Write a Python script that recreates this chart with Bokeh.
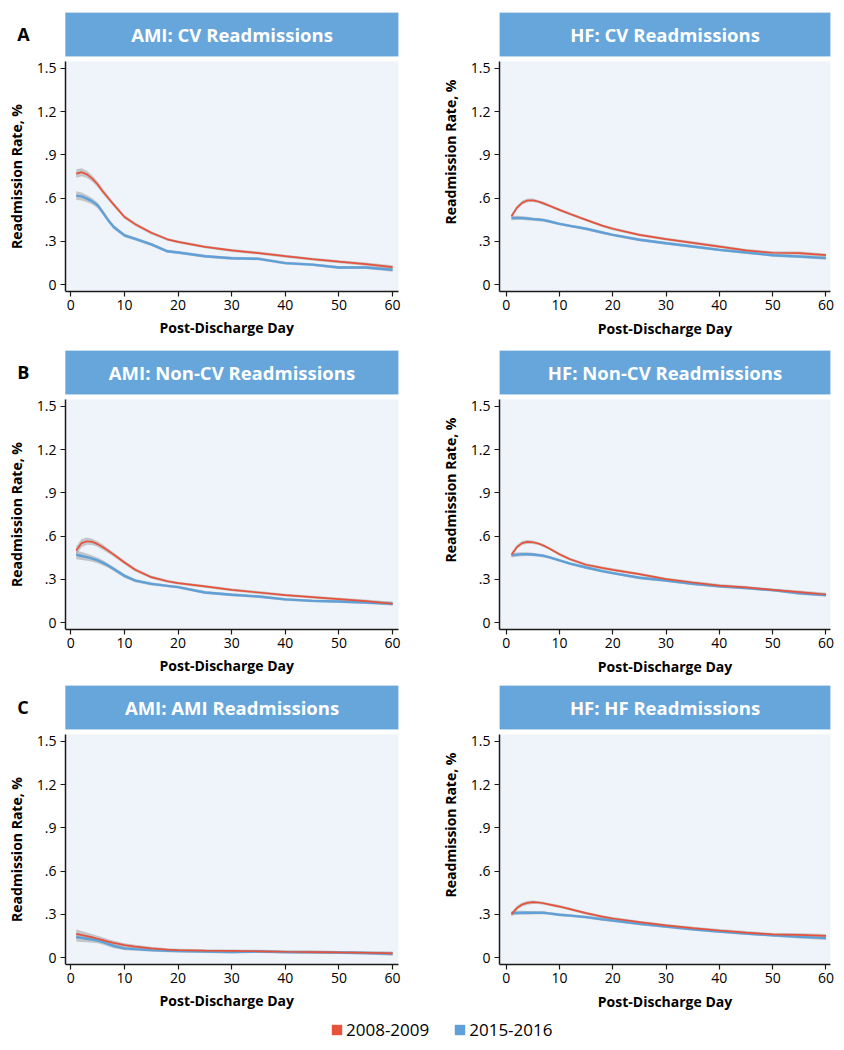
from bokeh.plotting import figure
from bokeh.models import (Range1d, BoxAnnotation, Label, FixedTicker, Legend, LegendItem,
                          CustomJSTickFormatter, Title)
from bokeh.layouts import column, row
from bokeh.embed import file_html
from bokeh.resources import INLINE

# ---------------- data ----------------
days = [1, 2, 3, 4, 5, 6, 7, 8, 10, 12, 15, 18, 20, 25, 30, 35, 40, 45, 50, 55, 60]

ami_cv_0809 = [.770, .780, .765, .735, .695, .645, .600, .555, .470, .420, .360, .315, .297, .263, .238, .220, .198, .178, .160, .143, .122]
ami_cv_1516 = [.618, .612, .597, .578, .550, .500, .445, .400, .342, .318, .280, .232, .224, .198, .184, .180, .150, .140, .120, .120, .104]

hf_cv_0809 = [.475, .533, .568, .584, .585, .577, .564, .549, .519, .490, .450, .410, .388, .346, .316, .291, .265, .238, .222, .219, .205]
hf_cv_1516 = [.462, .463, .462, .459, .455, .452, .448, .440, .422, .408, .388, .362, .346, .312, .288, .265, .242, .224, .205, .196, .185]

ami_ncv_0809 = [.500, .552, .565, .561, .545, .523, .498, .472, .418, .367, .316, .288, .275, .252, .228, .210, .192, .178, .164, .150, .132]
ami_ncv_1516 = [.471, .463, .455, .445, .432, .415, .395, .372, .325, .292, .270, .256, .247, .210, .194, .182, .162, .152, .148, .141, .132]

hf_ncv_0809 = [.471, .524, .552, .561, .558, .549, .535, .517, .475, .440, .402, .380, .367, .337, .302, .279, .258, .245, .228, .212, .196]
hf_ncv_1516 = [.468, .472, .475, .475, .473, .469, .464, .455, .432, .410, .383, .358, .344, .312, .293, .270, .252, .240, .226, .205, .192]

ami_ami_0809 = [.166, .158, .150, .141, .132, .122, .112, .103, .088, .078, .065, .057, .053, .050, .048, .045, .042, .040, .037, .035, .030]
ami_ami_1516 = [.143, .138, .132, .126, .120, .108, .095, .082, .065, .060, .053, .049, .046, .043, .039, .044, .039, .038, .037, .033, .028]

hf_hf_0809 = [.302, .344, .369, .380, .385, .383, .378, .370, .355, .337, .309, .285, .272, .247, .224, .205, .189, .175, .162, .159, .152]
hf_hf_1516 = [.309, .311, .312, .312, .312, .312, .312, .308, .298, .292, .282, .267, .258, .235, .217, .198, .182, .168, .155, .145, .136]

# 95% CI half-widths (grey bands)
ci_ami = [.030, .028, .025, .022, .020, .018, .016, .015, .013, .012, .011, .010, .010, .010, .010, .010, .010, .010, .010, .011, .013]
ci_hf = [.016, .015, .014, .013, .012, .011, .011, .010, .010, .010, .010, .010, .010, .010, .010, .010, .010, .010, .010, .011, .012]

titles = ["AMI: CV Readmissions", "HF: CV Readmissions",
          "AMI: Non-CV Readmissions", "HF: Non-CV Readmissions",
          "AMI: AMI Readmissions", "HF: HF Readmissions"]
letters = ["A", "B", "C"]
y_ticks = [0, 0.3, 0.6, 0.9, 1.2, 1.5]
x_ticks = [0, 10, 20, 30, 40, 50, 60]
legend_labels = ["2008-2009", "2015-2016"]
x_label = "Post-Discharge Day"
y_label = "Readmission Rate, %"

# ---------------- style ----------------
RED = "#E8513A"
BLUE = "#5FA0D9"
HEADER = "#66A6DB"
HEADER_LINE = "#5B9DD6"
BG = "#EEF4FA"
BAND = "#A0A0A0"
FONT = "Open Sans"
AXIS = "#1a1a1a"

Y0, YTOP_BG, YHEAD0, Y1 = -0.0464, 1.546, 1.583, 1.886
PX = 5.362  # pixels per day


def panel(title, s08, s15, ci, is_left, border_top, border_bottom, letter=None):
    if is_left:
        # frame starts at the canvas edge so the panel letter sits inside it;
        # the y axis is pinned at the plot-area edge.
        x_lo = -1.0
        xr = Range1d(x_lo - 65 / PX, 61.1)
        bl, br, fw = 0, 39, 398
    else:
        x_lo = -1.25
        xr = Range1d(x_lo, 60.85)
        bl, br, fw = 60, 14, 333
    h = border_top + 279 + border_bottom
    p = figure(width=bl + fw + br, height=h, x_range=xr, y_range=Range1d(Y0, Y1),
               toolbar_location=None, output_backend="svg",
               min_border_left=bl, min_border_right=br, min_border_top=border_top,
               min_border_bottom=border_bottom, outline_line_color=None,
               background_fill_color="white", border_fill_color="white")
    p.grid.visible = False

    p.add_layout(BoxAnnotation(left=x_lo, bottom=Y0, top=YTOP_BG, fill_color=BG, fill_alpha=1,
                               line_color=None, level="underlay"))
    p.add_layout(BoxAnnotation(left=x_lo, bottom=YHEAD0, top=Y1, fill_color=HEADER, fill_alpha=1,
                               line_color=HEADER_LINE, line_width=1, level="underlay"))
    p.add_layout(Label(x=(x_lo + xr.end) / 2, y=(YHEAD0 + Y1) / 2, text=title,
                       text_align="center", text_baseline="middle", text_color="white",
                       text_font=FONT, text_font_style="bold", text_font_size="18.5px"))
    if letter:
        p.add_layout(Label(x=x_lo - 48.3 / PX, y=(YHEAD0 + Y1) / 2,
                           text=letter, text_align="left", text_baseline="middle",
                           text_color="black", text_font=FONT, text_font_style="bold",
                           text_font_size="18px"))

    for s in (s08, s15):
        lo = [v - c for v, c in zip(s, ci)]
        hi = [v + c for v, c in zip(s, ci)]
        p.varea(x=days, y1=lo, y2=hi, fill_color=BAND, fill_alpha=0.55)
    for s, col, w in ((s15, BLUE, 2.4), (s08, RED, 1.7)):
        p.line(days, s, line_color=col, line_width=w)

    # axes
    ya = p.yaxis[0]
    ya.ticker = FixedTicker(ticks=y_ticks)
    ya.formatter = CustomJSTickFormatter(code="return tick == 0 ? '0' : tick.toFixed(1).replace(/^0/, '');")
    ya.bounds = (Y0, YTOP_BG)
    ya.axis_label = y_label
    ya.axis_label_standoff = 8
    ya.major_label_standoff = 4
    if is_left:
        ya.fixed_location = x_lo

    xa = p.xaxis[0]
    xa.ticker = FixedTicker(ticks=x_ticks)
    xa.axis_label_standoff = 6
    xa.major_label_standoff = 3
    xa.bounds = (x_lo, xr.end)
    if is_left:
        # centre the axis title under the plot area, not under the whole frame
        p.add_layout(Title(text=x_label, align="left", offset=159, standoff=6,
                           text_font=FONT, text_font_style="bold", text_font_size="14px",
                           text_color="black"), "below")
    else:
        xa.axis_label = x_label

    for ax in (xa, ya):
        ax.minor_tick_line_color = None
        ax.major_tick_in = 0
        ax.major_tick_out = 5
        ax.axis_line_color = AXIS
        ax.axis_line_width = 1.5
        ax.major_tick_line_color = AXIS
        ax.major_tick_line_width = 1.2
        ax.major_label_text_font = FONT
        ax.major_label_text_font_size = "14px"
        ax.major_label_text_color = "black"
        ax.axis_label_text_font = FONT
        ax.axis_label_text_font_style = "bold"
        ax.axis_label_text_font_size = "14px"
        ax.axis_label_text_color = "black"
    return p


series = [(ami_cv_0809, ami_cv_1516, ci_ami), (hf_cv_0809, hf_cv_1516, ci_hf),
          (ami_ncv_0809, ami_ncv_1516, ci_ami), (hf_ncv_0809, hf_ncv_1516, ci_hf),
          (ami_ami_0809, ami_ami_1516, ci_ami), (hf_hf_0809, hf_hf_1516, ci_hf)]
tops = [12, 4, 4]
bottoms = [55, 52, 54]

rows = []
for r in range(3):
    figs = []
    for c in range(2):
        i = r * 2 + c
        s08, s15, ci = series[i]
        figs.append(panel(titles[i], s08, s15, ci, c == 0, tops[r], bottoms[r],
                          letters[r] if c == 0 else None))
    rows.append(row(*figs))

# legend strip
nan = float("nan")
lf = figure(width=844, height=30, x_range=Range1d(0, 1), y_range=Range1d(0, 1),
            toolbar_location=None, output_backend="svg", min_border=0,
            x_axis_location=None, y_axis_location=None, outline_line_color=None)
lf.grid.visible = False
r1 = lf.quad(left=[nan], right=[nan], top=[nan], bottom=[nan], fill_color=RED, line_color=None)
r2 = lf.quad(left=[nan], right=[nan], top=[nan], bottom=[nan], fill_color=BLUE, line_color=None)
leg = Legend(items=[LegendItem(label=legend_labels[0], renderers=[r1]),
                    LegendItem(label=legend_labels[1], renderers=[r2])],
             orientation="horizontal", location=(330, 7),
             glyph_width=13, glyph_height=13, label_height=24,
             label_text_font=FONT, label_text_font_size="17px", label_text_color="black",
             padding=0, margin=0, spacing=24, label_standoff=3,
             border_line_color=None, background_fill_alpha=0)
lf.add_layout(leg, "center")

layout = column(*rows, lf)
open("out.html", "w").write(file_html(layout, INLINE))
